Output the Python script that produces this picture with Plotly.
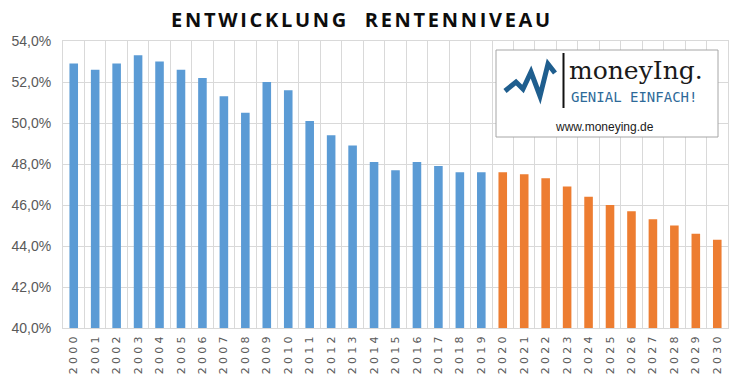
import plotly.graph_objects as go

years_hist = [str(y) for y in range(2000, 2020)]
values_hist = [52.9, 52.6, 52.9, 53.3, 53.0, 52.6, 52.2, 51.3, 50.5, 52.0,
               51.6, 50.1, 49.4, 48.9, 48.1, 47.7, 48.1, 47.9, 47.6, 47.6]
years_proj = [str(y) for y in range(2020, 2031)]
values_proj = [47.6, 47.5, 47.3, 46.9, 46.4, 46.0, 45.7, 45.3, 45.0, 44.6, 44.3]
y_ticks = [40, 42, 44, 46, 48, 50, 52, 54]
y_labels = [f"{v:.1f}".replace(".", ",") + "%" for v in y_ticks]
all_years = years_hist + years_proj
x_labels = [f'<span style="letter-spacing:3.2px">{y}</span>' for y in all_years]

BLUE = "#5B9BD5"
ORANGE = "#ED7D31"
GRID = "#D9D9D9"

fig = go.Figure()
fig.add_trace(go.Bar(x=years_hist, y=values_hist, marker_color=BLUE,
                     marker_line_width=0, showlegend=False))
fig.add_trace(go.Bar(x=years_proj, y=values_proj, marker_color=ORANGE,
                     marker_line_width=0, showlegend=False))

# page has an 8px body margin; figure coords = page coords - 8
OFF = 8
W, H = 740, 385
PL, PR, PT, PB = 63, 728, 41, 328  # plot area in page coordinates
L, T = PL - OFF, PT - OFF
R = W - (PR - OFF)
B = H - (PB - OFF)

fig.update_layout(
    width=W, height=H,
    margin=dict(l=L, r=R, t=T, b=B, autoexpand=False),
    paper_bgcolor="white", plot_bgcolor="white",
    bargap=0.6,
    title=dict(text='<span style="letter-spacing:2.7px"><b>ENTWICKLUNG  RENTENNIVEAU</b></span>',
               x=(362 - OFF) / W, xanchor="center",
               y=1 - (20 - OFF) / H, yanchor="middle",
               font=dict(family="Open Sans", size=20, color="#0d0d0d")),
    xaxis=dict(type="category", tickson="boundaries", showgrid=True,
               gridcolor=GRID, gridwidth=1, tickangle=-90, ticks="",
               automargin=False,
               tickvals=all_years, ticktext=x_labels,
               tickfont=dict(family="DejaVu Sans", size=11, color="#595959"),
               showline=True, linecolor=GRID, mirror=True),
    yaxis=dict(range=[40, 54], tickvals=y_ticks, ticktext=y_labels,
               showgrid=True, gridcolor=GRID, gridwidth=1, ticks="",
               automargin=False, ticklabelstandoff=8,
               tickfont=dict(family="Liberation Sans", size=14, color="#595959"),
               showline=True, linecolor=GRID, mirror=True, zeroline=False),
)

def px(x):
    return (x - PL) / (PR - PL)

def py(y):
    return 1 - (y - PT) / (PB - PT)

# logo box
fig.add_shape(type="rect", xref="paper", yref="paper",
              x0=px(496), x1=px(718), y0=py(137), y1=py(50),
              fillcolor="white", line=dict(color="#A6A6A6", width=1), layer="above")
# zigzag logo
pts = [(505, 91), (516, 82), (523, 89), (531, 72), (540, 96), (548, 64), (555, 73)]
path = "M " + " L ".join(f"{px(x)},{py(y)}" for x, y in pts)
fig.add_shape(type="path", xref="paper", yref="paper", path=path,
              line=dict(color="#1F5E8E", width=5), layer="above")
# vertical bar
fig.add_shape(type="line", xref="paper", yref="paper",
              x0=px(563.5), x1=px(563.5), y0=py(108), y1=py(53),
              line=dict(color="#111111", width=2), layer="above")

fig.add_annotation(xref="paper", yref="paper", x=px(567), y=py(70), xanchor="left",
                   yanchor="middle", showarrow=False, text="moneyIng.",
                   font=dict(family="DejaVu Serif", size=25, color="#1a1a1a"))
fig.add_annotation(xref="paper", yref="paper", x=px(569), y=py(97), xanchor="left",
                   yanchor="middle", showarrow=False, text="GENIAL EINFACH!",
                   font=dict(family="DejaVu Sans Mono", size=14, color="#2E6A99"))
fig.add_annotation(xref="paper", yref="paper", x=px(604), y=py(127), xanchor="center",
                   yanchor="middle", showarrow=False, text="www.moneying.de",
                   font=dict(family="Liberation Sans Narrow, Liberation Sans", size=12,
                             color="#1a1a1a"))

fig.write_html("out.html")
